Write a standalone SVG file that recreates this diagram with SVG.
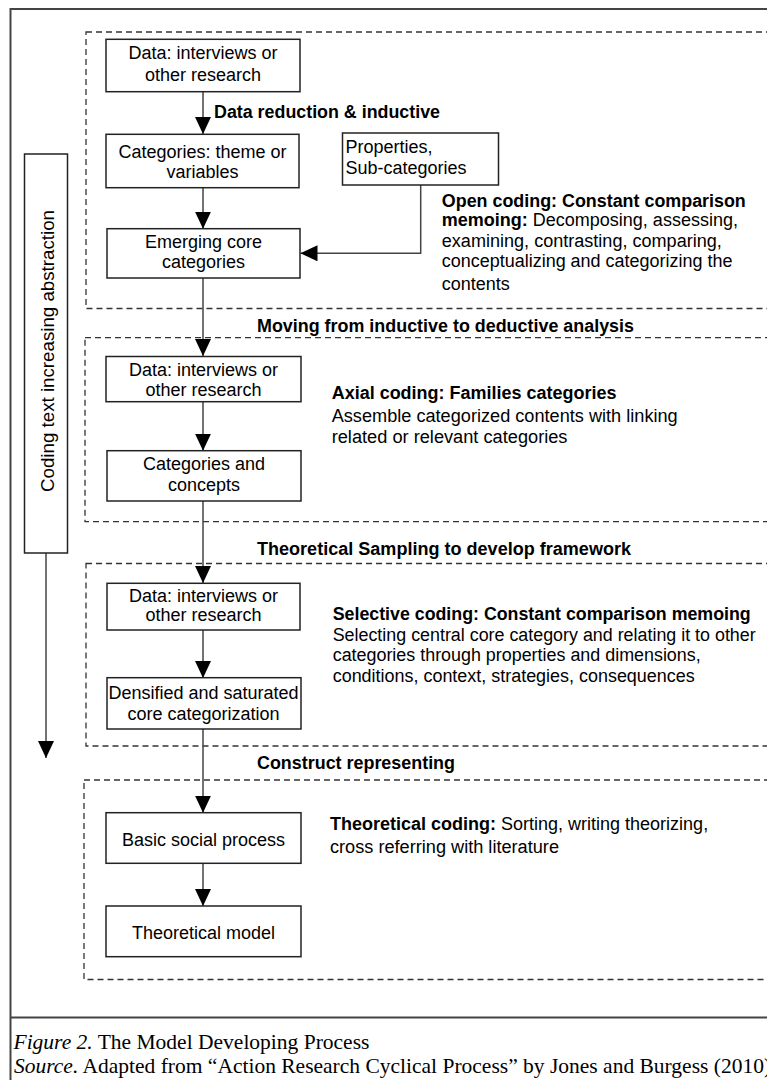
<svg xmlns="http://www.w3.org/2000/svg" width="767" height="1080" viewBox="0 0 767 1080">
<style>
.bg{fill:#fff}
.frame{fill:none;stroke:#444;stroke-width:2}
.box{fill:#fff;stroke:#222;stroke-width:1.5}
.dash{fill:none;stroke:#333;stroke-width:1.3;stroke-dasharray:6 4}
.conn{fill:none;stroke:#444;stroke-width:1.5;marker-end:url(#ah)}
.t{font-family:"Liberation Sans",Arial,sans-serif;font-size:18px;fill:#000}
.b{font-weight:bold}
.c{text-anchor:middle}
.cap{font-family:"Liberation Serif","Times New Roman",serif;font-size:21.5px;fill:#000}
.i{font-style:italic}
</style>
<defs>
<marker id="ah" markerUnits="userSpaceOnUse" markerWidth="17" markerHeight="16" refX="17" refY="8" orient="auto">
<path d="M0,0 L17,8 L0,16 Z" fill="#000"/>
</marker>
</defs>
<rect class="bg" x="0" y="0" width="767" height="1080"/>
<g id="frame">
<rect class="frame" x="10.5" y="9" width="800" height="1100"/>
<line class="frame" x1="10.5" y1="1017.5" x2="800" y2="1017.5"/>
</g>
<g id="phases">
<rect class="dash" x="86" y="32" width="720" height="276.5"/>
<rect class="dash" x="85" y="337.7" width="720" height="184"/>
<rect class="dash" x="86" y="563.5" width="720" height="182.5"/>
<rect class="dash" x="84" y="780" width="720" height="199.5"/>
</g>
<g id="connectors">
<line class="conn" x1="203" y1="91.7" x2="203" y2="134"/>
<line class="conn" x1="203" y1="187.7" x2="203" y2="228.7"/>
<polyline class="conn" points="420.7,185 420.7,253.3 300.5,253.3"/>
<line class="conn" x1="203" y1="278" x2="203" y2="356"/>
<line class="conn" x1="203" y1="401.7" x2="203" y2="450.7"/>
<line class="conn" x1="203" y1="501" x2="203" y2="583"/>
<line class="conn" x1="203" y1="630" x2="203" y2="678"/>
<line class="conn" x1="203" y1="729" x2="203" y2="812.7"/>
<line class="conn" x1="203" y1="863" x2="203" y2="906"/>
<line class="conn" x1="46" y1="553" x2="46" y2="758"/>
</g>
<g id="abstraction">
<rect class="box" x="24.5" y="154" width="43" height="399"/>
<text class="t c" transform="translate(53.5,351) rotate(-90)" textLength="282" lengthAdjust="spacingAndGlyphs">Coding text increasing abstraction</text>
</g>
<g id="n1">
<rect class="box" x="106" y="39.3" width="194" height="52.4"/>
<text class="t c" x="203" y="59">Data: interviews or</text>
<text class="t c" x="203" y="81">other research</text>
</g>
<g id="n2">
<rect class="box" x="106" y="134.3" width="193" height="53.4"/>
<text class="t c" x="202.5" y="157.5">Categories: theme or</text>
<text class="t c" x="202.5" y="178">variables</text>
</g>
<g id="n3">
<rect class="box" x="342.5" y="133" width="156" height="52"/>
<text class="t" x="345.5" y="152.7">Properties,</text>
<text class="t" x="345.5" y="174.3">Sub-categories</text>
</g>
<g id="n4">
<rect class="box" x="107" y="228.7" width="193" height="49.3"/>
<text class="t c" x="203.5" y="248.3">Emerging core</text>
<text class="t c" x="203.5" y="268.3">categories</text>
</g>
<g id="open-coding">
<text class="t b" x="441.8" y="206.7" textLength="304" lengthAdjust="spacingAndGlyphs">Open coding: Constant comparison</text>
<text class="t" x="441.8" y="226"><tspan class="b">memoing:</tspan> Decomposing, assessing,</text>
<text class="t" x="441.8" y="247.3" textLength="280" lengthAdjust="spacingAndGlyphs">examining, contrasting, comparing,</text>
<text class="t" x="441.8" y="267.3" textLength="290.6" lengthAdjust="spacingAndGlyphs">conceptualizing and categorizing the</text>
<text class="t" x="441.8" y="290">contents</text>
</g>
<g id="labels">
<text class="t b" x="214" y="117.7" textLength="226" lengthAdjust="spacingAndGlyphs">Data reduction &amp; inductive</text>
<text class="t b" x="257" y="331.5" textLength="377" lengthAdjust="spacingAndGlyphs">Moving from inductive to deductive analysis</text>
<text class="t b" x="257" y="554.5" textLength="374" lengthAdjust="spacingAndGlyphs">Theoretical Sampling to develop framework</text>
<text class="t b" x="257" y="768.5" textLength="198" lengthAdjust="spacingAndGlyphs">Construct representing</text>
</g>
<g id="n5">
<rect class="box" x="106" y="356.5" width="195" height="45.2"/>
<text class="t c" x="203.5" y="376">Data: interviews or</text>
<text class="t c" x="203.5" y="395.5">other research</text>
</g>
<g id="n6">
<rect class="box" x="107" y="450.7" width="194" height="50.3"/>
<text class="t c" x="204" y="470">Categories and</text>
<text class="t c" x="204" y="490.7">concepts</text>
</g>
<g id="axial-coding">
<text class="t b" x="331.7" y="399" textLength="284.7" lengthAdjust="spacingAndGlyphs">Axial coding: Families categories</text>
<text class="t" x="331.7" y="421.7" textLength="346" lengthAdjust="spacingAndGlyphs">Assemble categorized contents with linking</text>
<text class="t" x="331.7" y="443.3" textLength="235.8" lengthAdjust="spacingAndGlyphs">related or relevant categories</text>
</g>
<g id="n7">
<rect class="box" x="107" y="583.3" width="193" height="46.7"/>
<text class="t c" x="203.5" y="602.3">Data: interviews or</text>
<text class="t c" x="203.5" y="621">other research</text>
</g>
<g id="n8">
<rect class="box" x="107" y="677.7" width="194" height="51.3"/>
<text class="t c" x="203.5" y="699">Densified and saturated</text>
<text class="t c" x="203.5" y="720">core categorization</text>
</g>
<g id="selective-coding">
<text class="t b" x="332.7" y="620" textLength="418" lengthAdjust="spacingAndGlyphs">Selective coding: Constant comparison memoing</text>
<text class="t" x="332.7" y="640.7" textLength="423" lengthAdjust="spacingAndGlyphs">Selecting central core category and relating it to other</text>
<text class="t" x="332.7" y="661" textLength="368" lengthAdjust="spacingAndGlyphs">categories through properties and dimensions,</text>
<text class="t" x="332.7" y="682.3" textLength="362" lengthAdjust="spacingAndGlyphs">conditions, context, strategies, consequences</text>
</g>
<g id="n9">
<rect class="box" x="106" y="812.7" width="195" height="50.6"/>
<text class="t c" x="203.5" y="845.5">Basic social process</text>
</g>
<g id="n10">
<rect class="box" x="106" y="906" width="195" height="50.7"/>
<text class="t c" x="203.5" y="939">Theoretical model</text>
</g>
<g id="theoretical-coding">
<text class="t" x="330" y="830"><tspan class="b">Theoretical coding:</tspan> Sorting, writing theorizing,</text>
<text class="t" x="330" y="852.7" textLength="229" lengthAdjust="spacingAndGlyphs">cross referring with literature</text>
</g>
<g id="caption">
<text class="cap" x="13.5" y="1049"><tspan class="i">Figure 2.</tspan> The Model Developing Process</text>
<text class="cap" x="14" y="1072.5"><tspan class="i">Source.</tspan> Adapted from “Action Research Cyclical Process” by Jones and Burgess (2010)</text>
</g>
</svg>
